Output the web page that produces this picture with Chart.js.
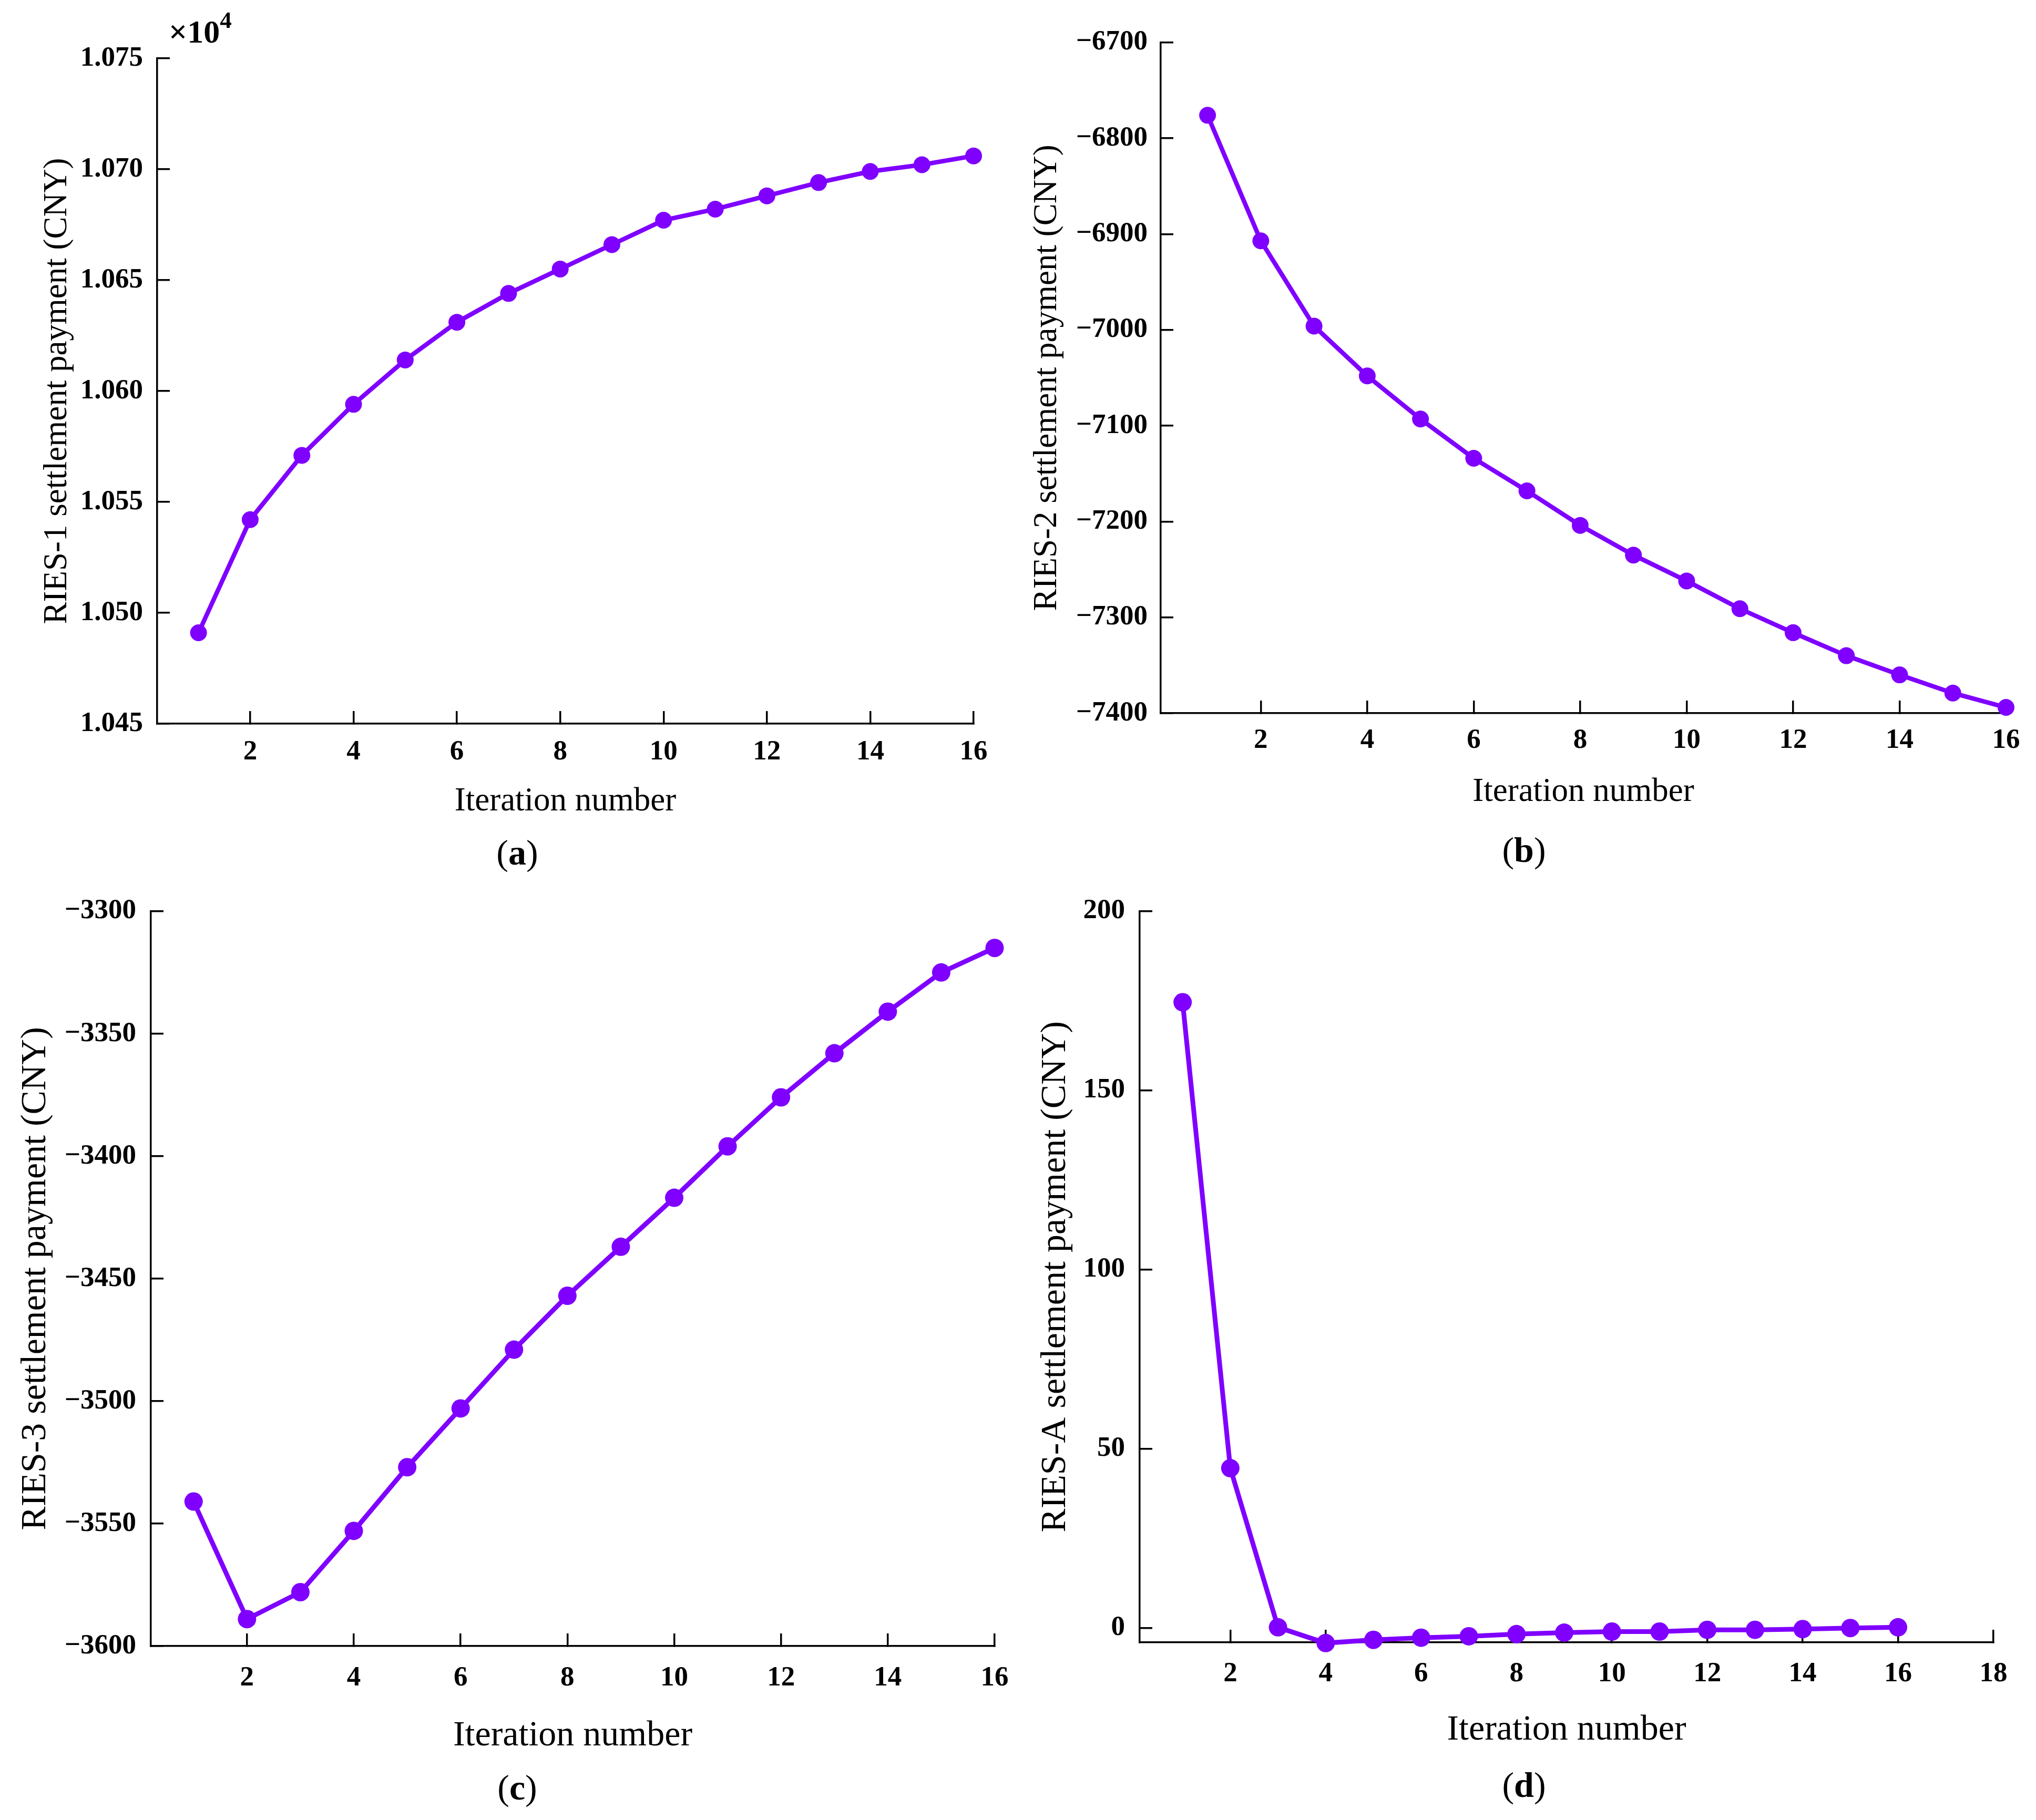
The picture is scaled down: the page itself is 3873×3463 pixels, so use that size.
<!DOCTYPE html>
<html>
<head>
<meta charset="utf-8">
<title>RIES settlement payment vs iteration number</title>
<script src="https://cdn.jsdelivr.net/npm/chart.js@4.4.0/dist/chart.umd.min.js"></script>
<style>
  html, body { margin: 0; padding: 0; background: #fff; }
  #page { position: relative; width: 3873px; height: 3463px; overflow: hidden;
          font-family: 'Liberation Serif', 'Times New Roman', serif; color: #000; }
  canvas { position: absolute; }
  .tag { position: absolute; font-size: 68px; line-height: 1; white-space: nowrap;
         transform: translate(-50%, -50%); }
  .mult { position: absolute; font-size: 62px; font-weight: bold; line-height: 1; white-space: nowrap; }
  .mult span { position: relative; top: -28px; font-size: 45px; }
</style>
</head>
<body>
<div id="page">
  <canvas id="chartA"></canvas>
  <canvas id="chartB"></canvas>
  <canvas id="chartC"></canvas>
  <canvas id="chartD"></canvas>
  <div class="mult" style="left:321px;top:29px">×10<span>4</span></div>
  <div class="tag" style="left:984px;top:1622px">(<b>a</b>)</div>
  <div class="tag" style="left:2899px;top:1617px">(<b>b</b>)</div>
  <div class="tag" style="left:984px;top:3401px">(<b>c</b>)</div>
  <div class="tag" style="left:2899px;top:3396px">(<b>d</b>)</div>
</div>
<script>
// values
const iterations = [1, 2, 3, 4, 5, 6, 7, 8, 9, 10, 11, 12, 13, 14, 15, 16];
// RIES-1 in units of 10^4 CNY
const ries1Payment = [1.0491, 1.0542, 1.0571, 1.0594, 1.0614, 1.0631, 1.0644, 1.0655,
                      1.0666, 1.0677, 1.0682, 1.0688, 1.0694, 1.0699, 1.0702, 1.0706];
const ries2Payment = [-6776, -6907, -6996, -7048, -7093, -7134, -7168, -7204,
                      -7235, -7262, -7291, -7316, -7340, -7360, -7379, -7394];
const ries3Payment = [-3541, -3589, -3578, -3553, -3527, -3503, -3479, -3457,
                      -3437, -3417, -3396, -3376, -3358, -3341, -3325, -3315];
const riesAPayment = [174.6, 44.6, 0.2, -4.2, -3.3, -2.7, -2.3, -1.7,
                      -1.3, -1.0, -1.0, -0.5, -0.5, -0.3, 0.0, 0.2];

const xTicks16 = [2, 4, 6, 8, 10, 12, 14, 16];
const xTicks18 = [2, 4, 6, 8, 10, 12, 14, 16, 18];
const yTicksA = [1.045, 1.050, 1.055, 1.060, 1.065, 1.070, 1.075];
const yTicksB = [-7400, -7300, -7200, -7100, -7000, -6900, -6800, -6700];
const yTicksC = [-3600, -3550, -3500, -3450, -3400, -3350, -3300];
const yTicksD = [0, 50, 100, 150, 200];

const PURPLE = '#7f00ff';
const FONT = "'Liberation Serif', 'Times New Roman', serif";
const TICK_SIZE = 53;
const TICK_LEN = 24;
const EXTRA_W = 120; // canvases reach past their quadrant so the last x label never squeezes the plot

function minusSign(v) {
    return v < 0 ? '\u2212' + Math.abs(v) : String(v);
}

function makePanel(p) {
    const canvas = document.getElementById(p.id);
    const w = p.box.w + EXTRA_W;
    canvas.width = w;
    canvas.height = p.box.h;
    canvas.style.left = p.box.x + 'px';
    canvas.style.top = p.box.y + 'px';

    const titleLH = p.titleSize * 1.2;
    const tickLH = TICK_SIZE * 1.2;
    const yWidth = p.area.L - p.box.x;
    const xHeight = p.box.y + p.box.h - p.area.B;

    new Chart(canvas.getContext('2d'), {
        type: 'line',
        data: {
            datasets: [{
                data: iterations.map((x, i) => ({ x: x, y: p.values[i] })),
                borderColor: PURPLE,
                backgroundColor: PURPLE,
                borderWidth: p.lineW,
                pointRadius: p.dotR,
                pointBackgroundColor: PURPLE,
                pointBorderColor: PURPLE,
                pointBorderWidth: 0,
                tension: 0,
                fill: false,
                clip: false
            }]
        },
        options: {
            responsive: false,
            devicePixelRatio: 1,
            animation: false,
            layout: {
                padding: {
                    left: 0,
                    top: p.area.T - p.box.y,
                    right: p.box.x + w - p.area.R,
                    bottom: 0
                }
            },
            plugins: { legend: { display: false }, tooltip: { enabled: false } },
            scales: {
                x: {
                    type: 'linear',
                    min: p.xMin,
                    max: p.xMax,
                    afterBuildTicks: s => { s.ticks = p.xTicks.map(v => ({ value: v })); },
                    afterFit: s => { s.height = xHeight; },
                    grid: { drawOnChartArea: false, drawTicks: true, tickLength: -TICK_LEN,
                            color: '#000', lineWidth: 3.5 },
                    border: { display: true, color: '#000', width: 3.5 },
                    ticks: {
                        color: '#000',
                        font: { family: FONT, size: TICK_SIZE, weight: 'bold', lineHeight: 1.2 },
                        padding: (p.xLabelY - p.area.B) + TICK_LEN - tickLH / 2,
                        maxRotation: 0,
                        autoSkip: false,
                        callback: v => String(v)
                    },
                    title: {
                        display: true,
                        text: 'Iteration number',
                        color: '#000',
                        font: { family: FONT, size: p.titleSize, lineHeight: 1.2 },
                        padding: { top: 0, bottom: p.box.y + p.box.h - p.xTitleY - titleLH / 2 }
                    }
                },
                y: {
                    type: 'linear',
                    min: p.yMin,
                    max: p.yMax,
                    afterBuildTicks: s => { s.ticks = p.yTicks.map(v => ({ value: v })); },
                    afterFit: s => { s.width = yWidth; },
                    grid: { drawOnChartArea: false, drawTicks: true, tickLength: -TICK_LEN,
                            color: '#000', lineWidth: 3.5 },
                    border: { display: true, color: '#000', width: 3.5 },
                    ticks: {
                        color: '#000',
                        font: { family: FONT, size: TICK_SIZE, weight: 'bold', lineHeight: 1.2 },
                        padding: p.yGap + TICK_LEN,
                        autoSkip: false,
                        callback: p.fmt
                    },
                    title: {
                        display: true,
                        text: p.yTitle,
                        color: '#000',
                        font: { family: FONT, size: p.titleSize, lineHeight: 1.2 },
                        padding: { top: p.yTitleX - p.box.x - titleLH / 2, bottom: 0 }
                    }
                }
            }
        }
    });
}

document.addEventListener('DOMContentLoaded', function() {
    // (a) RIES-1
    makePanel({
        id: 'chartA', box: { x: 0, y: 0, w: 1936, h: 1600 },
        area: { L: 299, R: 1852, T: 111, B: 1377 },
        yTitleX: 109, xLabelY: 1431, xTitleY: 1525, yGap: 27, titleSize: 63,
        lineW: 8.5, dotR: 16,
        values: ries1Payment, xMin: 0.2, xMax: 16, yMin: 1.045, yMax: 1.075,
        xTicks: xTicks16, yTicks: yTicksA,
        fmt: v => v.toFixed(3),
        yTitle: 'RIES-1 settlement payment (CNY)'
    });
    // (b) RIES-2
    makePanel({
        id: 'chartB', box: { x: 1936, y: 0, w: 1937, h: 1600 },
        area: { L: 2208, R: 3816, T: 73, B: 1357 },
        yTitleX: 1992, xLabelY: 1409, xTitleY: 1507, yGap: 25, titleSize: 63,
        lineW: 8.5, dotR: 16,
        values: ries2Payment, xMin: 0.12, xMax: 16, yMin: -7400, yMax: -6700,
        xTicks: xTicks16, yTicks: yTicksB,
        fmt: minusSign,
        yTitle: 'RIES-2 settlement payment (CNY)'
    });
    // (c) RIES-3
    makePanel({
        id: 'chartC', box: { x: 0, y: 1650, w: 1936, h: 1813 },
        area: { L: 287, R: 1892, T: 1703, B: 3132 },
        yTitleX: 68, xLabelY: 3193, xTitleY: 3303, yGap: 28, titleSize: 68,
        lineW: 9, dotR: 17.5,
        values: ries3Payment, xMin: 0.2, xMax: 16, yMin: -3600, yMax: -3300,
        xTicks: xTicks16, yTicks: yTicksC,
        fmt: minusSign,
        yTitle: 'RIES-3 settlement payment (CNY)'
    });
    // (d) RIES-A
    makePanel({
        id: 'chartD', box: { x: 1936, y: 1650, w: 1937, h: 1813 },
        area: { L: 2168, R: 3792, T: 1714, B: 3125 },
        yTitleX: 2008, xLabelY: 3185, xTitleY: 3292, yGap: 28, titleSize: 68,
        lineW: 9, dotR: 17.5,
        values: riesAPayment, xMin: 0.1, xMax: 18, yMin: -4, yMax: 200,
        xTicks: xTicks18, yTicks: yTicksD,
        fmt: minusSign,
        yTitle: 'RIES-A settlement payment (CNY)'
    });
});
</script>
</body>
</html>
